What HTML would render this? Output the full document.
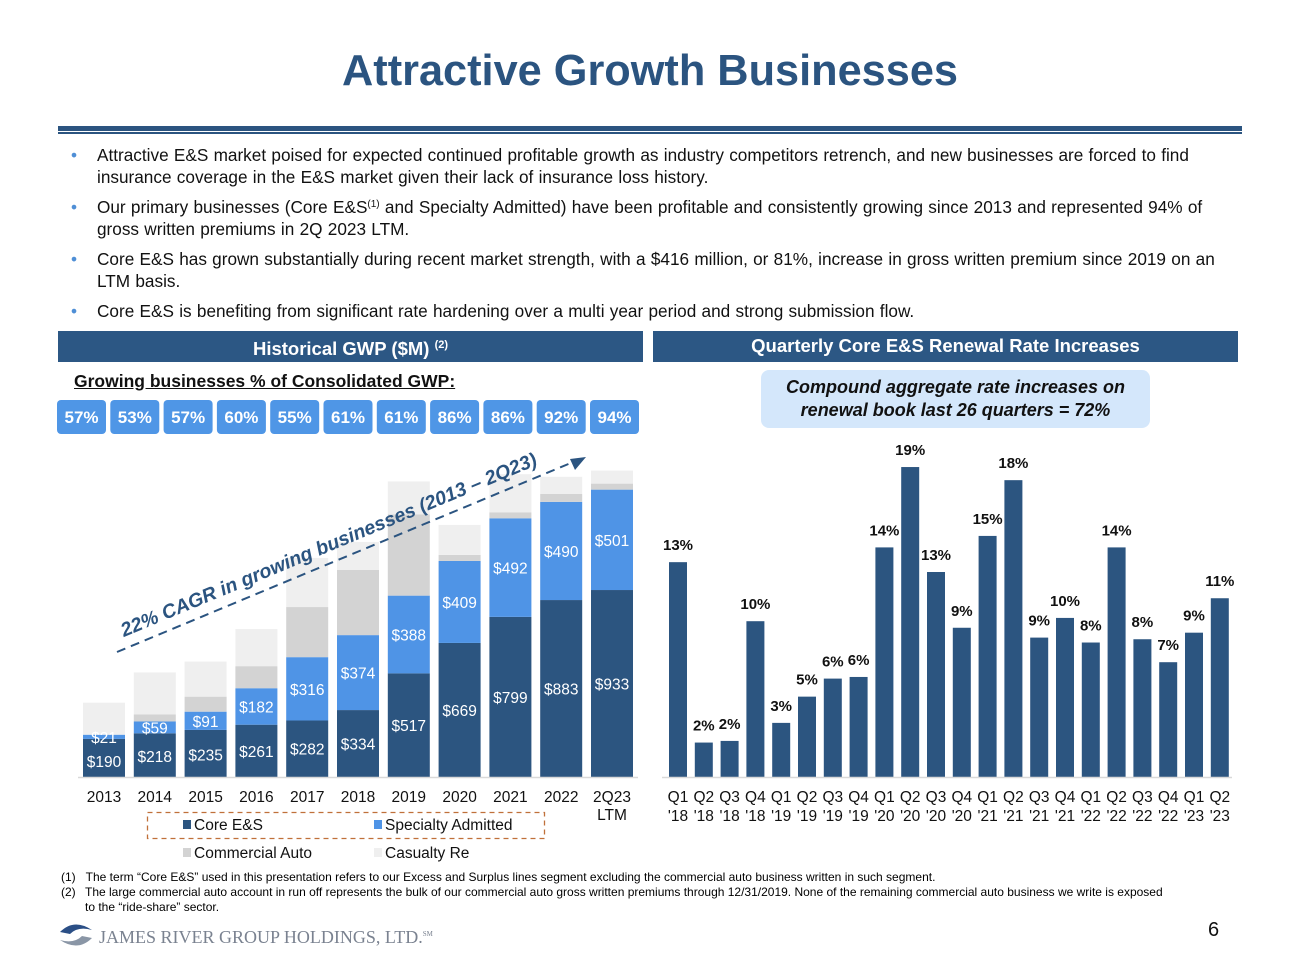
<!DOCTYPE html>
<html><head><meta charset="utf-8">
<style>
body{margin:0;width:1300px;height:975px;background:#fff;font-family:"Liberation Sans",Arial,sans-serif;position:relative;overflow:hidden}
.abs{position:absolute}
h1{position:absolute;left:0;width:1300px;top:47px;margin:0;text-align:center;font-size:43.3px;font-weight:bold;color:#2b5480}
.bul{position:absolute;left:97px;width:1145px;font-size:17.2px;line-height:22px;color:#111;word-spacing:0.5px}
.bul sup{font-size:10px;line-height:0;vertical-align:6px}
.dot{position:absolute;left:-26px;color:#4f8fd6}
.hdr{position:absolute;top:331px;height:31px;background:#2c5784;color:#fff;font-weight:bold;font-size:18.5px;line-height:29px;text-align:center}
</style></head><body>
<h1>Attractive Growth Businesses</h1>
<div class="abs" style="left:58px;top:126px;width:1184px;height:5px;background:#2b5480"></div>
<div class="abs" style="left:58px;top:132px;width:1184px;height:2px;background:#2b5480"></div>

<div class="bul" style="top:144px"><span class="dot">•</span>Attractive E&amp;S market poised for expected continued profitable growth as industry competitors retrench, and new businesses are forced to find insurance coverage in the E&amp;S market given their lack of insurance loss history.</div>
<div class="bul" style="top:196px"><span class="dot">•</span>Our primary businesses (Core E&amp;S<sup>(1)</sup> and Specialty Admitted) have been profitable and consistently growing since 2013 and represented 94% of gross written premiums in 2Q 2023 LTM.</div>
<div class="bul" style="top:248px"><span class="dot">•</span>Core E&amp;S has grown substantially during recent market strength, with a $416 million, or 81%, increase in gross written premium since 2019 on an LTM basis.</div>
<div class="bul" style="top:300px"><span class="dot">•</span>Core E&amp;S is benefiting from significant rate hardening over a multi year period and strong submission flow.</div>

<div class="hdr" style="left:58px;width:585px">Historical GWP ($M) <sup style="font-size:11px">(2)</sup></div>
<div class="hdr" style="left:653px;width:585px">Quarterly Core E&amp;S Renewal Rate Increases</div>

<div class="abs" style="left:74px;top:371px;font-size:17.5px;font-weight:bold;text-decoration:underline;color:#111">Growing businesses % of Consolidated GWP:</div>
<div class="abs" style="left:761px;top:370px;width:389px;height:58px;background:#d4e7fb;border-radius:8px;text-align:center;font-weight:bold;font-style:italic;font-size:18px;line-height:23px;color:#111;padding-top:6px;box-sizing:border-box">Compound aggregate rate increases on<br>renewal book last 26 quarters = 72%</div>

<div class="abs" style="left:61px;top:870px;font-size:12px">(1)&nbsp;&nbsp;&nbsp;The term “Core E&amp;S” used in this presentation refers to our Excess and Surplus lines segment excluding the commercial auto business written in such segment.</div>
<div class="abs" style="left:61px;top:885px;font-size:12px;width:1112px;line-height:15px"><span style="position:absolute;left:0">(2)</span><div style="margin-left:24px">The large commercial auto account in run off represents the bulk of our commercial auto gross written premiums through 12/31/2019. None of the remaining commercial auto business we write is exposed to the “ride-share” sector.</div></div>
<div class="abs" style="left:58px;top:922px;width:36px;height:26px">
<svg width="36" height="26"><path d="M2 10 Q16 -4 34 8 Q20 4 12 12 Z" fill="#2b4f86"/><path d="M34 16 Q20 30 2 18 Q16 22 24 14 Z" fill="#8a96a6"/></svg></div>
<div class="abs" style="left:99px;top:927px;font-family:'Liberation Serif',serif;font-size:18px;color:#7a8290">JAMES RIVER GROUP HOLDINGS, LTD.<sup style="font-size:7px">SM</sup></div>
<div class="abs" style="left:1208px;top:919px;font-size:20px;color:#111">6</div>

<svg class="abs" style="left:0;top:0" width="1300" height="975" id="charts"></svg>
<script>
// Left chart data
const years=["2013","2014","2015","2016","2017","2018","2019","2020","2021","2022","2Q23"];
const coreES=[190,218,235,261,282,334,517,669,799,883,933];
const specialty=[21,59,91,182,316,374,388,409,492,490,501];
const commAuto=[0,35,75,110,250,325,405,30,30,40,30];
const casualtyRe=[160,210,175,185,245,140,165,150,190,85,65];
const pctGWP=["57%","53%","57%","60%","55%","61%","61%","86%","86%","92%","94%"];
// Right chart data
const quarters=["Q1|'18","Q2|'18","Q3|'18","Q4|'18","Q1|'19","Q2|'19","Q3|'19","Q4|'19","Q1|'20","Q2|'20","Q3|'20","Q4|'20","Q1|'21","Q2|'21","Q3|'21","Q4|'21","Q1|'22","Q2|'22","Q3|'22","Q4|'22","Q1|'23","Q2|'23"];
const rateInc=[13.1,2.1,2.2,9.5,3.3,4.9,6.0,6.1,14.0,18.9,12.5,9.1,14.7,18.1,8.5,9.7,8.2,14.0,8.4,7.0,8.8,10.9];
const rateLbl=["13%","2%","2%","10%","3%","5%","6%","6%","14%","19%","13%","9%","15%","18%","9%","10%","8%","14%","8%","7%","9%","11%"];

const svg=document.getElementById('charts');
const NS="http://www.w3.org/2000/svg";
function mk(t,a,txt){const e=document.createElementNS(NS,t);for(const k in a)e.setAttribute(k,a[k]);if(txt!==undefined)e.textContent=txt;svg.appendChild(e);return e;}

const base=777;
const yL=v=>v*0.2004;
const xL=i=>83+i*50.8;
const bw=42;
pctGWP.forEach((p,i)=>{
  const r=mk('rect',{x:57+i*53.3,y:400,width:49,height:34,rx:4,fill:'#4f96e6'});
  
  
  const t=mk('text',{x:57+i*53.3+24.5,y:423,'text-anchor':'middle','font-size':17,'font-weight':'bold',fill:'#fff'},p);
  
  
});
const series=[[coreES,'#2c5580','core'],[specialty,'#4f94e6','specialty'],[commAuto,'#d3d3d3','comm-auto'],[casualtyRe,'#efefef','casualty-re']];
years.forEach((yr,i)=>{
  let acc=0;
  series.forEach(([arr,col,nm])=>{
    const h=yL(arr[i]);
    const r=mk('rect',{x:xL(i),y:base-acc-h,width:bw,height:h,fill:col});
    
    
    acc+=h;
  });
  const c=coreES[i],s=specialty[i];
  const tc=mk('text',{x:xL(i)+bw/2,y:base-yL(c)/2+6+(i==0?3:i<3?1:0),'text-anchor':'middle','font-size':15.5,fill:'#fff'},'$'+c);
  
  
  const ts=mk('text',{x:xL(i)+bw/2,y:base-yL(c)-yL(s)/2+6,'text-anchor':'middle','font-size':15.5,fill:'#fff'},'$'+s);
  
  
  const tx=mk('text',{x:xL(i)+bw/2,y:802,'text-anchor':'middle','font-size':15.5,fill:'#111'},yr);
  
  
});
const ltm=mk('text',{x:xL(10)+bw/2,y:820,'text-anchor':'middle','font-size':15.5,fill:'#111'},'LTM');


const ax=mk('line',{x1:78,y1:base+0.5,x2:638,y2:base+0.5,stroke:'#d9d9d9','stroke-width':1.5});


const ar=mk('line',{x1:117,y1:652,x2:578,y2:460,stroke:'#2b5480','stroke-width':2,'stroke-dasharray':'9,6'});


const ah=mk('polygon',{points:'586,457 570,459 575,470',fill:'#2b5480'});


const ct=mk('text',{x:0,y:0,'font-size':19.5,'font-weight':'bold','font-style':'italic',fill:'#2b5480',transform:'translate(124,637) rotate(-22.6)'},'22% CAGR in growing businesses (2013 – 2Q23)');


const lb=mk('rect',{x:147.5,y:812.5,width:397,height:26,fill:'none',stroke:'#c0703a','stroke-width':1.3,'stroke-dasharray':'5,4'});


[[183,830,'#2c5580','Core E&S'],[374,830,'#4f94e6','Specialty Admitted'],[183,858,'#d3d3d3','Commercial Auto'],[374,858,'#efefef','Casualty Re']].forEach(([x,y,c,t])=>{
  const r=mk('rect',{x:x,y:y-10,width:8,height:9,fill:c});
  
  
  const tt=mk('text',{x:x+11,y:y,'font-size':15.5,fill:'#111'},t);
  
  
});

const yR=v=>v*16.4;
const xR=i=>669+i*25.8;
const rw=18;
rateInc.forEach((v,i)=>{
  const h=yR(v);
  const r=mk('rect',{x:xR(i),y:base-h,width:rw,height:h,fill:'#2c5580'});
  
  
  const t=mk('text',{x:xR(i)+rw/2,y:base-h-12,'text-anchor':'middle','font-size':15,'font-weight':'bold',fill:'#111'},rateLbl[i]);
  
  
  const [q,yy]=quarters[i].split('|');
  const t1=mk('text',{x:xR(i)+rw/2,y:802,'text-anchor':'middle','font-size':15.5,fill:'#111'},q);
  
  
  const t2=mk('text',{x:xR(i)+rw/2,y:821,'text-anchor':'middle','font-size':15.5,fill:'#111'},yy);
  
  
});
const ax2=mk('line',{x1:662,y1:base+0.5,x2:1232,y2:base+0.5,stroke:'#d9d9d9','stroke-width':1.5});


</script>
</body></html>
